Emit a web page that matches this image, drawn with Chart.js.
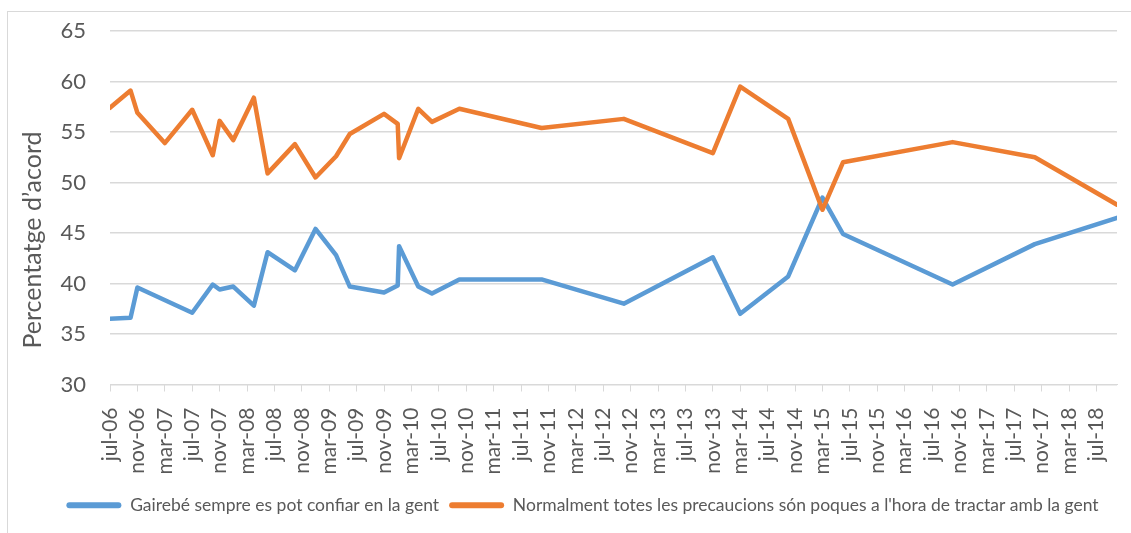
<!DOCTYPE html>
<html>
<head>
<meta charset="utf-8">
<script src="https://cdn.jsdelivr.net/npm/chart.js@4.4.1/dist/chart.umd.min.js"></script>
<style>
  html, body { margin: 0; padding: 0; background: #fff; overflow: hidden; }
  #wrap { position: relative; width: 1131px; height: 533px; }
  #frame { position: absolute; left: 7px; top: 11px; width: 1140px; height: 540px; border: 1px solid #d9d9d9; box-sizing: border-box; }
  canvas { position: absolute; left: 0; top: 0; }
</style>
</head>
<body>
<div id="wrap">
  <div id="frame"></div>
  <canvas id="chart" width="1131" height="533"></canvas>
</div>
<script>
// months counted from jul-06
const cautionMonths = [0, 3, 4, 8, 12, 15, 16, 18, 21, 23, 27, 30, 33, 35, 40, 42, 42.2, 45, 47, 51, 63, 75, 88, 92, 99, 104, 107, 123, 135, 147];
const cautionValues = [57.4, 59.1, 56.9, 53.9, 57.2, 52.7, 56.1, 54.2, 58.4, 50.9, 53.8, 50.5, 52.6, 54.8, 56.8, 55.8, 52.4, 57.3, 56.0, 57.3, 55.4, 56.3, 52.9, 59.5, 56.3, 47.3, 52.0, 54.0, 52.5, 47.8];
const trustMonths = [0, 3, 4, 12, 15, 16, 18, 21, 23, 27, 30, 33, 35, 40, 42, 42.2, 45, 47, 51, 63, 75, 88, 92, 99, 104, 107, 123, 135, 147];
const trustValues = [36.5, 36.6, 39.6, 37.1, 39.9, 39.4, 39.7, 37.8, 43.1, 41.3, 45.4, 42.8, 39.7, 39.1, 39.8, 43.7, 39.7, 39.0, 40.4, 40.4, 38.0, 42.6, 37.0, 40.7, 48.5, 44.9, 39.9, 43.9, 46.5];
const tickLabels = ['jul-06','nov-06','mar-07','jul-07','nov-07','mar-08','jul-08','nov-08','mar-09','jul-09','nov-09','mar-10','jul-10','nov-10','mar-11','jul-11','nov-11','mar-12','jul-12','nov-12','mar-13','jul-13','nov-13','mar-14','jul-14','nov-14','mar-15','jul-15','nov-15','mar-16','jul-16','nov-16','mar-17','jul-17','nov-17','mar-18','jul-18'];
const seriesNames = ['Gairebé sempre es pot confiar en la gent', "Normalment totes les precaucions són poques a l'hora de tractar amb la gent"];
const yTitle = 'Percentatge d’acord';

const toPoints = (xs, ys) => ys.map((v, i) => ({ x: xs[i], y: v }));

const FONT = "Lato, 'Open Sans', sans-serif";
const GREY = '#595959';
Chart.defaults.font.family = FONT;
Chart.defaults.color = GREY;

// excel puts the axis title a bit lower than the middle of the plot
const yTitlePlugin = {
    id: 'yTitle',
    afterDraw(chart) {
        const ctx = chart.ctx;
        ctx.save();
        ctx.translate(33, 240);
        ctx.rotate(-Math.PI / 2);
        ctx.font = '25px ' + FONT;
        ctx.fillStyle = GREY;
        ctx.textAlign = 'center';
        ctx.textBaseline = 'middle';
        ctx.fillText(yTitle, 0, 0);
        ctx.restore();
    }
};

// nudge the legend right, like the original
const legendShift = {
    id: 'legendShift',
    afterLayout(chart) {
        chart.legend.left += 24;
        chart.legend.right += 24;
    }
};

new Chart(document.getElementById('chart').getContext('2d'), {
    type: 'line',
    data: {
        datasets: [{
            label: seriesNames[0],
            data: toPoints(trustMonths, trustValues),
            borderColor: '#5b9bd5',
            backgroundColor: '#5b9bd5',
            borderWidth: 4.5,
            order: 1
        }, {
            label: seriesNames[1],
            data: toPoints(cautionMonths, cautionValues),
            borderColor: '#ed7d31',
            backgroundColor: '#ed7d31',
            borderWidth: 4.5,
            order: 0
        }]
    },
    plugins: [yTitlePlugin, legendShift],
    options: {
        responsive: false,
        animation: false,
        layout: { padding: { top: 31, right: 14, left: 0, bottom: 9 } },
        elements: {
            line: { tension: 0, borderCapStyle: 'round', borderJoinStyle: 'round' },
            point: { radius: 0 }
        },
        plugins: {
            tooltip: { enabled: false },
            legend: {
                position: 'bottom',
                labels: {
                    boxWidth: 55,
                    boxHeight: 6,
                    useBorderRadius: true,
                    borderRadius: 3,
                    padding: 10,
                    font: { size: 17.5 },
                    sort: (a, b) => a.datasetIndex - b.datasetIndex,
                    generateLabels: chart => Chart.defaults.plugins.legend.labels.generateLabels(chart).map(item => ({ ...item, lineWidth: 0 }))
                }
            }
        },
        scales: {
            x: {
                type: 'linear',
                min: 0,
                max: 147,
                afterBuildTicks: scale => { scale.ticks = tickLabels.map((_, i) => ({ value: i * 4 })); },
                afterFit: scale => {
                    scale.height = 102;
                    scale.paddingLeft = 0;
                    scale.paddingRight = 0;
                },
                ticks: {
                    autoSkip: false,
                    minRotation: 90,
                    maxRotation: 90,
                    padding: 16,
                    font: { size: 21 },
                    callback: (value, index) => tickLabels[index]
                },
                grid: { drawOnChartArea: false, color: '#d9d9d9', tickLength: 7 },
                border: { color: '#d9d9d9' }
            },
            y: {
                min: 30,
                max: 65,
                afterFit: scale => {
                    scale.width = 110;
                    scale.paddingTop = 0;
                    scale.paddingBottom = 0;
                },
                ticks: { stepSize: 5, padding: 24, font: { size: 22 } },
                grid: { color: '#d9d9d9', drawTicks: false, lineWidth: 1.5 },
                border: { display: false }
            }
        }
    }
});
</script>
</body>
</html>
